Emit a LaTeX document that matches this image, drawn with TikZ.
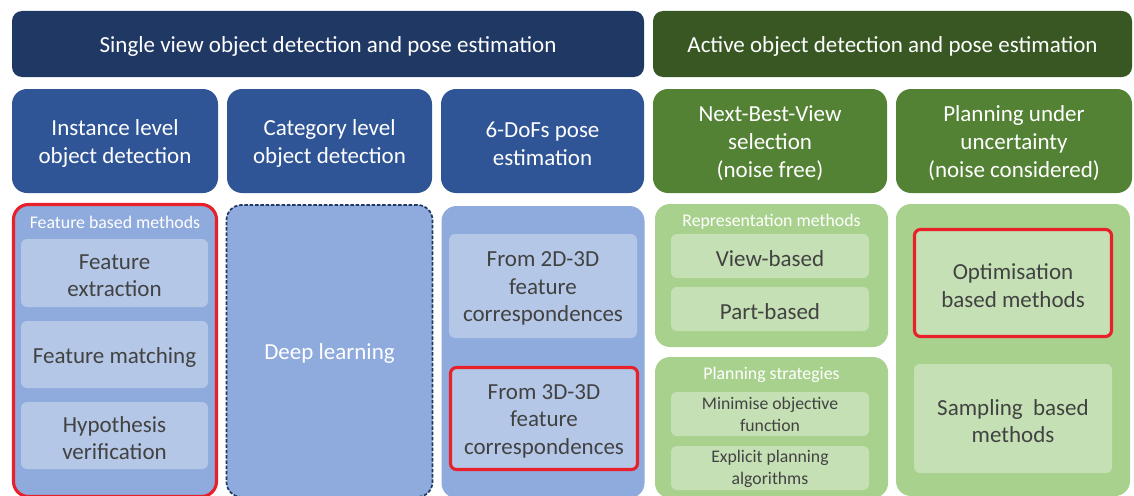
\documentclass[tikz,border=0pt]{standalone}
\usepackage{fontspec}
\setmainfont{Carlito}
\begin{document}
\begin{tikzpicture}[x=1pt,y=-1pt,
  % shapes
  banner/.style={rounded corners=10pt, inner sep=0pt},
  header/.style={rounded corners=15pt, inner sep=0pt},
  panel/.style={rounded corners=15pt, inner sep=0pt},
  tile/.style={rounded corners=6pt, inner sep=0pt},
  mark red/.style={draw=hired, line width=3.1pt},
  % texts, set a little below the shape centre
  bigtext/.style={inner sep=0pt, align=center, yshift=-2.5pt, text=white, font=\fontsize{23}{28}\selectfont},
  tiletext/.style={inner sep=0pt, align=center, yshift=-2.5pt, text=txtgray, font=\fontsize{23}{27.5}\selectfont},
  smalltext/.style={inner sep=0pt, align=center, yshift=-0.5pt, text=txtgray, font=\fontsize{17.7}{22}\selectfont},
  paneltitle/.style={inner sep=0pt, text=white, font=\fontsize{17.8}{20}\selectfont},
]
\definecolor{navy}{HTML}{203864}
\definecolor{midblue}{HTML}{2F5597}
\definecolor{paleblue}{HTML}{8FAADC}
\definecolor{tileblue}{HTML}{B4C7E7}
\definecolor{darkgreen}{HTML}{385723}
\definecolor{midgreen}{HTML}{548235}
\definecolor{palegreen}{HTML}{A9D18E}
\definecolor{tilegreen}{HTML}{C5E0B4}
\definecolor{txtgray}{HTML}{424242}
\definecolor{hired}{HTML}{E8202A}

\useasboundingbox (0,0) rectangle (1134,495);
\fill[white] (0,0) rectangle (1134,495);

% top banners
\node[banner, fill=navy, minimum width=632pt, minimum height=66pt] (single) at (328,44) {};
\node[bigtext] (single-t) at (single.center) {Single view object detection and pose estimation};
\node[banner, fill=darkgreen, minimum width=479pt, minimum height=66pt] (active) at (892.5,44) {};
\node[bigtext] (active-t) at (active.center) {Active object detection and pose estimation};

% column headers
\node[header, fill=midblue, minimum width=206pt, minimum height=104pt] (inst) at (115,141) {};
\node[bigtext] (inst-t) at (inst.center) {Instance level\\object detection};
\node[header, fill=midblue, minimum width=205pt, minimum height=104pt] (cat) at (329.5,141) {};
\node[bigtext] (cat-t) at (cat.center) {Category level\\object detection};
\node[header, fill=midblue, minimum width=203pt, minimum height=104pt] (pose) at (542.5,141) {};
\node[bigtext] (pose-t) at (pose.center) {6-DoFs pose\\estimation};
\node[header, fill=midgreen, minimum width=234pt, minimum height=104pt] (nbv) at (770,141) {};
\node[bigtext] (nbv-t) at (nbv.center) {Next-Best-View\\selection\\(noise free)};
\node[header, fill=midgreen, minimum width=236pt, minimum height=104pt] (plan) at (1014,141) {};
\node[bigtext] (plan-t) at (plan.center) {Planning under\\uncertainty\\(noise considered)};

% column 1: feature based methods
\node[panel, fill=paleblue, mark red, minimum width=203pt, minimum height=292pt] (featpanel) at (115,350.5) {};
\node[paneltitle] (feattitle) at (115,222) {Feature based methods};
\node[tile, fill=tileblue, minimum width=187pt, minimum height=68pt] (fext) at (114.5,273) {};
\node[tiletext] (fext-t) at (fext.center) {Feature\\extraction};
\node[tile, fill=tileblue, minimum width=187pt, minimum height=67pt] (fmatch) at (114.5,354.5) {};
\node[tiletext] (fmatch-t) at (fmatch.center) {Feature matching};
\node[tile, fill=tileblue, minimum width=187pt, minimum height=67pt] (hyp) at (114.5,435.5) {};
\node[tiletext] (hyp-t) at (hyp.center) {Hypothesis\\verification};

% column 2: deep learning
\node[panel, fill=paleblue, draw=navy, line width=1.7pt, dash pattern=on 3.5pt off 1.8pt, minimum width=206pt, minimum height=292pt] (deep) at (329.5,351) {};
\node[bigtext] (deep-t) at (deep.center) {Deep learning};

% column 3: pose estimation
\node[panel, fill=paleblue, minimum width=203pt, minimum height=292pt] (posepanel) at (543,352) {};
\node[tile, fill=tileblue, minimum width=188pt, minimum height=104pt] (p2d) at (543,286) {};
\node[tiletext] (p2d-t) at (p2d.center) {From 2D-3D\\feature\\correspondences};
\node[tile, fill=tileblue, mark red, minimum width=187pt, minimum height=102pt] (p3d) at (544,418.5) {};
\node[tiletext] (p3d-t) at (p3d.center) {From 3D-3D\\feature\\correspondences};

% column 4: representation and planning strategies
\node[panel, fill=palegreen, minimum width=233pt, minimum height=143pt] (reppanel) at (771.5,275.5) {};
\node[paneltitle] (reptitle) at (771.5,222) {Representation methods};
\node[tile, fill=tilegreen, minimum width=198pt, minimum height=44pt] (view) at (770,256) {};
\node[tiletext] (view-t) at (view.center) {View-based};
\node[tile, fill=tilegreen, minimum width=198pt, minimum height=44pt] (part) at (770,309) {};
\node[tiletext] (part-t) at (part.center) {Part-based};
\node[panel, fill=palegreen, minimum width=233pt, minimum height=141pt] (strpanel) at (771.5,427.5) {};
\node[paneltitle] (strtitle) at (771.5,375) {Planning strategies};
\node[tile, fill=tilegreen, minimum width=198pt, minimum height=44pt] (minobj) at (770,414) {};
\node[smalltext] (minobj-t) at (minobj.center) {Minimise objective\\function};
\node[tile, fill=tilegreen, minimum width=198pt, minimum height=44pt] (explicit) at (770,468) {};
\node[smalltext] (explicit-t) at (explicit.center) {Explicit planning\\algorithms};

% column 5: planning under uncertainty
\node[panel, fill=palegreen, minimum width=234pt, minimum height=292pt] (uncpanel) at (1013,350) {};
\node[tile, fill=tilegreen, mark red, minimum width=197pt, minimum height=107pt] (optim) at (1013,283) {};
\node[tiletext] (optim-t) at (optim.center) {Optimisation\\based methods};
\node[tile, fill=tilegreen, minimum width=198pt, minimum height=109pt] (sampl) at (1013,418.5) {};
\node[tiletext] (sampl-t) at (sampl.center) {Sampling~ based\\methods};
\end{tikzpicture}
\end{document}
